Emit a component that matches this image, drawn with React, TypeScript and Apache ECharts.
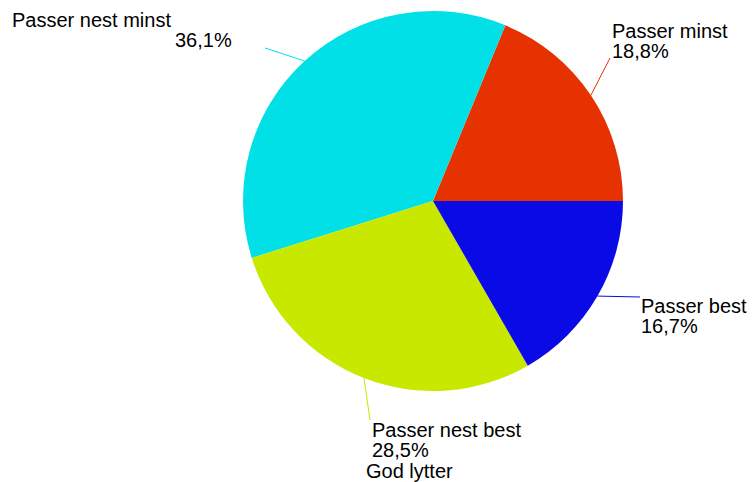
import React, { useEffect, useRef } from "react";
import * as echarts from "echarts";

const categories = ["Passer minst", "Passer nest minst", "Passer nest best", "Passer best"];
const values = [18.8, 36.1, 28.5, 16.7];
const colors = ["#E63200", "#00E0E6", "#C8E800", "#0A0AE6"];
const chartTitle = "God lytter";

// layout only
const CENTER = [433, 201];
const RADIUS = 190;
const labelPos = [
  { x: 612, y: 21 },
  { x: 12, y: 10 },
  { x: 372, y: 420 },
  { x: 641, y: 296 },
];
const lineEnds = [
  [610, 58],
  [265, 48],
  [370, 420],
  [640, 297],
];

export default function App() {
  const ref = useRef<HTMLDivElement>(null);
  useEffect(() => {
    if (!ref.current) return;
    const chart = echarts.init(ref.current, undefined, { renderer: "svg" });
    const total = values.reduce((a, b) => a + b, 0);
    const fmt = (v: number) => ((v / total) * 100).toFixed(1).replace(".", ",") + "%";
    // mid angles (degrees, counterclockwise from 3 o'clock)
    const mids: number[] = [];
    let acc = 0;
    values.forEach((v) => {
      const a = (v / total) * 360;
      mids.push(acc + a / 2);
      acc += a;
    });
    const font = { fontFamily: "Liberation Sans", fontSize: 20, lineHeight: 20, color: "#000" };
    chart.setOption({
      animation: false,
      backgroundColor: "#ffffff",
      title: {
        text: chartTitle,
        left: 366,
        top: 461,
        padding: 0,
        textStyle: { fontFamily: "Liberation Sans", fontSize: 20, lineHeight: 20, fontWeight: "normal", color: "#000" },
      },
      series: [
        {
          type: "pie",
          center: CENTER,
          radius: [0, RADIUS],
          startAngle: 0,
          clockwise: false,
          data: categories.map((c, i) => ({ name: c, value: values[i], itemStyle: { color: colors[i] } })),
          label: {
            show: true,
            ...font,
            formatter: (p: any) =>
              p.dataIndex === 1
                ? `{n|${p.name}}\n{q|${fmt(p.value)}}`
                : `{n|${p.name}}\n{p|${fmt(p.value)}}`,
            rich: {
              n: { ...font },
              p: { ...font },
              q: { ...font, padding: [0, 0, 0, 163] },
            },
          },
          labelLine: { show: true, length: 20, length2: 0, lineStyle: { width: 1 } },
          labelLayout: (params: any) => {
            const i = params.dataIndex;
            const pos = labelPos[i];
            const rad = (mids[i] * Math.PI) / 180;
            const start = [CENTER[0] + RADIUS * Math.cos(rad), CENTER[1] - RADIUS * Math.sin(rad)];
            return {
              x: pos.x,
              y: pos.y,
              align: "left",
              verticalAlign: "top",
              labelLinePoints: [start, lineEnds[i], lineEnds[i]],
            };
          },
          emphasis: { disabled: true },
        },
      ],
    });
    return () => chart.dispose();
  }, []);
  return <div ref={ref} style={{ width: 755, height: 482, position: "absolute", left: 0, top: 0 }} />;
}
